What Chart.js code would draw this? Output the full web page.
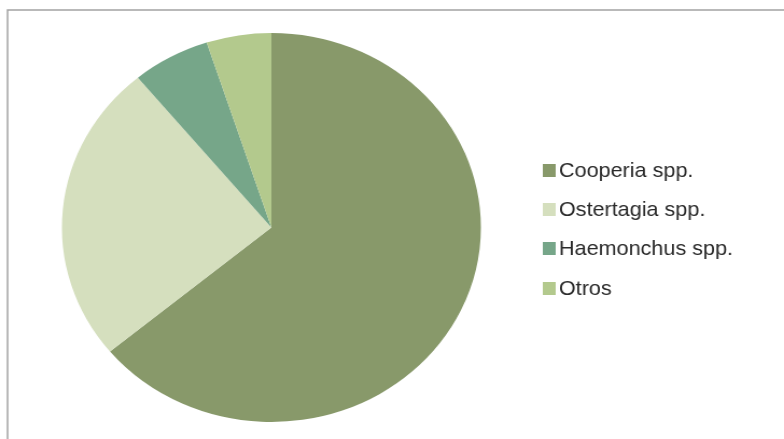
<!DOCTYPE html>
<html>
<head>
<meta charset="utf-8">
<script src="https://cdn.jsdelivr.net/npm/chart.js@4/dist/chart.umd.min.js"></script>
<style>
  html, body { margin: 0; padding: 0; background: #ffffff; }
  #grafico { display: block; width: 784px; height: 439px; }
</style>
</head>
<body>
<canvas id="grafico" width="728" height="439" style="width:784px;height:439px"></canvas>
<script>
const especies = ['Cooperia spp.', 'Ostertagia spp.', 'Haemonchus spp.', 'Otros'];
const porcentajes = [64, 25, 6, 5];
const colores = ['#88996a', '#d5dfbe', '#76a689', '#b3c98d'];

// marco gris y leyenda a la derecha
const marcoYLeyenda = {
  id: 'marcoYLeyenda',
  beforeDraw(chart) {
    const ctx = chart.ctx;
    ctx.save();
    ctx.fillStyle = '#ffffff';
    ctx.fillRect(0, 0, chart.width, chart.height);
    ctx.strokeStyle = '#a2a2a2';
    ctx.lineWidth = 1.5;
    ctx.beginPath();
    ctx.moveTo(7, chart.height + 2);
    ctx.lineTo(7, 10);
    ctx.lineTo(chart.width + 2, 10);
    ctx.stroke();
    ctx.restore();
  },
  afterDraw(chart) {
    const ctx = chart.ctx;
    const filas = [170, 209, 248, 288];
    ctx.save();
    ctx.font = '21px "Liberation Sans", Arial, sans-serif';
    ctx.textBaseline = 'middle';
    chart.data.labels.forEach((etiqueta, i) => {
      ctx.fillStyle = chart.data.datasets[0].backgroundColor[i];
      ctx.fillRect(504, filas[i] - 6, 12, 13);
      ctx.fillStyle = '#2a2a2a';
      // texto un poco más estrecho
      ctx.save();
      ctx.translate(519, filas[i] + 1);
      ctx.scale(0.955, 1);
      ctx.fillText(etiqueta, 0, 0);
      ctx.restore();
    });
    ctx.restore();
  }
};

new Chart(document.getElementById('grafico'), {
  type: 'pie',
  data: {
    labels: especies,
    datasets: [{
      data: porcentajes,
      backgroundColor: colores,
      borderWidth: 0
    }]
  },
  options: {
    responsive: false,
    devicePixelRatio: 1,
    animation: false,
    layout: { padding: { left: 57, right: 281, top: 33, bottom: 17 } },
    plugins: {
      legend: { display: false },
      tooltip: { enabled: false }
    }
  },
  plugins: [marcoYLeyenda]
});
</script>
</body>
</html>
